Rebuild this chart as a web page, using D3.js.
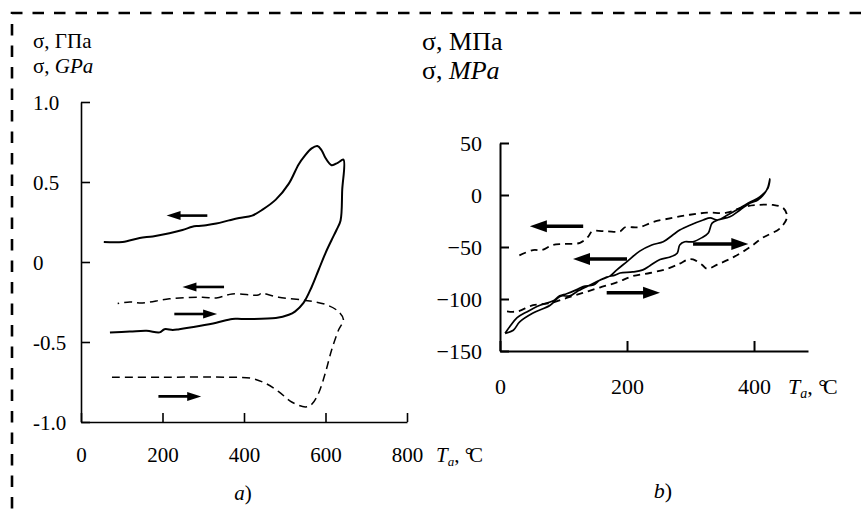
<!DOCTYPE html>
<html>
<head>
<meta charset="utf-8">
<script src="https://cdn.jsdelivr.net/npm/d3@7"></script>
<style>
  html, body { margin: 0; padding: 0; background: #fff; }
  svg { display: block; }
  svg text { font-family: "Liberation Serif", "Times New Roman", "DejaVu Serif", serif; fill: #000; }
</style>
</head>
<body>
<svg id="chart" width="864" height="516"></svg>
<script>
// ---- panel a) : stress in GPa vs annealing temperature ----
const aTicksX = [0, 200, 400, 600, 800];
const aTicksY = [1.0, 0.5, 0, -0.5, -1.0];
const aTickLabelsY = ["1.0", "0.5", "0", "-0.5", "-1.0"];
// solid loop: heating (lower) then cooling (upper)
const aSolid = [
  [71,-0.44],[120,-0.435],[161,-0.43],[193,-0.44],[205,-0.42],[225,-0.425],[241,-0.42],[290,-0.40],
  [332,-0.38],[371,-0.356],[395,-0.356],[478,-0.35],[510,-0.33],[525,-0.31],[546,-0.256],[566,-0.156],
  [583,-0.05],[600,0.056],[615,0.1375],[627,0.2],[637,0.26],[641,0.45],[644,0.64],[630,0.62],[615,0.605],
  [600,0.65],[590,0.70],[580,0.725],[566,0.71],[548,0.66],[534,0.61],[510,0.49],[478,0.39],
  [444,0.325],[420,0.29],[388,0.275],[363,0.26],[332,0.24],[307,0.23],[285,0.225],[273,0.22],
  [249,0.2],[217,0.18],[176,0.16],[144,0.15],[102,0.125],[56,0.125]
];
// dashed loop: heating (lower) then cooling (upper)
const aDashed = [
  [76,-0.72],[200,-0.72],[356,-0.72],[420,-0.728],[454,-0.76],[485,-0.81],[517,-0.875],
  [551,-0.906],[566,-0.89],[583,-0.82],[600,-0.69],[615,-0.55],[632,-0.425],[644,-0.36],
  [632,-0.31],[600,-0.265],[551,-0.24],[485,-0.22],[454,-0.2],[444,-0.193],[435,-0.206],
  [371,-0.2],[332,-0.225],[298,-0.22],[217,-0.23],[151,-0.256],[120,-0.25],[90,-0.26]
];
// direction arrows [from, to]
const aArrows = [
  [[310, 0.29], [210, 0.29]],
  [[351, -0.156], [249, -0.156]],
  [[229, -0.325], [334, -0.325]],
  [[190, -0.84], [295, -0.84]]
];

// ---- panel b) : stress in MPa vs annealing temperature ----
const bTicksX = [0, 200, 400];
const bTicksY = [50, 0, -50, -100, -150];
const bSolid = [
  [8,-133],[21,-130],[31,-122],[52,-113.5],[79,-106],[91,-99],[97,-97],[110,-97],[121,-93],
  [137,-88],[157,-82],[168,-79],[181,-77],[189,-75],[209,-74],[225,-72],[236,-68],[252,-62],
  [268,-59.6],[279,-56],[283,-48],[291,-45],[304,-45],[318,-41],[328,-36.5],[334,-27],[343,-24],
  [362,-21],[378,-14.4],[394,-7.7],[406,-4.8],[417,1.9],[422,7.7],[425,15.4],
  [422,6.7],[409,-1.9],[394,-6.7],[378,-12.5],[359,-19],[343,-24],[331,-22],[320,-24],[299,-29],
  [283,-33.7],[272,-38.5],[257,-45],[239,-48],[220,-54],[200,-64],[184,-72],[173,-78],[157,-82],
  [147,-86.5],[131,-88],[121,-91],[105,-95],[94,-97],[83,-102],[63,-106],[42,-112.5],[27,-118],
  [15,-127],[8,-133]
];
const bDashed = [
  [11,-112],[27,-112],[52,-106],[79,-104],[105,-99],[131,-94],[157,-89],[184,-84],[209,-78],
  [236,-75],[263,-71],[283,-66],[296,-62],[304,-62],[318,-67],[326,-71],[342,-67],[367,-60],
  [394,-50],[414,-41],[441,-32],[452,-21],[446,-12.5],[430,-9.6],[405,-9.6],[383,-11.5],
  [357,-17],[326,-17],[299,-19],[272,-22],[241,-26],[220,-31],[209,-31],[197,-31],[189,-35],
  [168,-35],[145,-35],[139,-40],[126,-46],[99,-47],[83,-48],[66,-53],[52,-53],[27,-59]
];
const bArrows = [
  [[131, -30], [47, -30]],
  [[200, -61.5], [115, -61.5]],
  [[304, -47], [391, -47]],
  [[168, -94], [252, -94]]
];

const svg = d3.select("#chart");
const ink = "#000";

// dashed frame around the figure
svg.append("path")
  .attr("d", "M12,530 L12,13 L880,13")
  .attr("fill", "none").attr("stroke", ink)
  .attr("stroke-width", 2.6).attr("stroke-dasharray", "11.5,10");

function arrow(g, x, y, pts, w, headL, headW) {
  const [p0, p1] = pts;
  const x0 = x(p0[0]), y0 = y(p0[1]), x1 = x(p1[0]), y1 = y(p1[1]);
  const dir = Math.sign(x1 - x0);
  g.append("line")
    .attr("x1", x0).attr("y1", y0).attr("x2", x1 - dir * headL * 0.8).attr("y2", y1)
    .attr("stroke", ink).attr("stroke-width", w);
  g.append("path")
    .attr("d", `M${x1},${y1} L${x1 - dir * headL},${y1 - headW} L${x1 - dir * headL},${y1 + headW} Z`)
    .attr("fill", ink);
}

function styleAxis(ax, sw, fs) {
  ax.attr("font-family", null).attr("font-size", null);
  ax.select(".domain").attr("stroke-width", sw);
  ax.selectAll(".tick line").attr("stroke-width", sw);
  ax.selectAll(".tick text").style("font-size", fs + "px");
}

// axis title "T_a, °C"
function tempLabel(g, x0, y0, fs, subFs) {
  const t = g.append("text").attr("x", x0).attr("y", y0).style("font-size", fs + "px");
  t.append("tspan").attr("font-style", "italic").text("T");
  t.append("tspan").attr("font-style", "italic").style("font-size", subFs + "px").attr("dy", 4).text("a");
  t.append("tspan").attr("dy", -4).text(", ");
  t.append("tspan").style("letter-spacing", "-4px").text("°C");
}

// ===== panel a =====
{
  const x = d3.scaleLinear().domain([0, 800]).range([81, 407]);
  const y = d3.scaleLinear().domain([-1, 1]).range([422, 102]);
  const g = svg.append("g");
  const fs = 21;

  const ya = g.append("g").attr("transform", `translate(${x(0)},0)`)
    .call(d3.axisLeft(y).tickValues(aTicksY).tickSize(-9).tickSizeOuter(0)
      .tickFormat((d, i) => aTickLabelsY[i]));
  styleAxis(ya, 1.6, fs);
  ya.selectAll(".tick text").attr("x", -48).attr("dy", "0.35em").attr("text-anchor", "start");

  const xa = g.append("g").attr("transform", `translate(0,${y(-1)})`)
    .call(d3.axisBottom(x).tickValues(aTicksX).tickSize(-9).tickSizeOuter(0));
  styleAxis(xa, 1.6, fs);
  xa.selectAll(".tick text").attr("y", 40).attr("dy", 0);

  const line = d3.line().x(d => x(d[0])).y(d => y(d[1])).curve(d3.curveCatmullRom.alpha(0.5));
  g.append("path").attr("d", line(aSolid)).attr("fill", "none")
    .attr("stroke", ink).attr("stroke-width", 2);
  g.append("path").attr("d", line(aDashed)).attr("fill", "none")
    .attr("stroke", ink).attr("stroke-width", 1.5).attr("stroke-dasharray", "8,5");

  aArrows.forEach(a => arrow(g, x, y, a, 2.6, 14, 4.5));

  g.append("text").attr("x", 33).attr("y", 48).style("font-size", "21px")
    .text("σ, ГПа");
  const t2 = g.append("text").attr("x", 33).attr("y", 73).style("font-size", "21px");
  t2.append("tspan").text("σ, ");
  t2.append("tspan").attr("font-style", "italic").text("GPa");

  tempLabel(g, 436, 462, fs, 13);

  const lab = g.append("text").attr("x", 243).attr("y", 500).style("font-size", fs + "px")
    .attr("text-anchor", "middle");
  lab.append("tspan").attr("font-style", "italic").text("a");
  lab.append("tspan").text(")");
}

// ===== panel b =====
{
  const x = d3.scaleLinear().domain([0, 485]).range([500, 808]);
  const y = d3.scaleLinear().domain([-150, 50]).range([351, 143]);
  const g = svg.append("g");
  const fs = 22;

  const ya = g.append("g").attr("transform", `translate(${x(0)},0)`)
    .call(d3.axisLeft(y).tickValues(bTicksY).tickSize(-9).tickSizeOuter(0));
  styleAxis(ya, 2, fs);
  ya.selectAll(".tick text").attr("x", -18).attr("dy", "0.35em");

  const xa = g.append("g").attr("transform", `translate(0,${y(-150)})`)
    .call(d3.axisBottom(x).tickValues(bTicksX).tickSize(-10).tickSizeOuter(0));
  styleAxis(xa, 2, fs);
  xa.selectAll(".tick text").attr("y", 43).attr("dy", 0);

  const line = d3.line().x(d => x(d[0])).y(d => y(d[1])).curve(d3.curveCatmullRom.alpha(0.5));
  g.append("path").attr("d", line(bDashed)).attr("fill", "none")
    .attr("stroke", ink).attr("stroke-width", 1.8).attr("stroke-dasharray", "7,5");
  g.append("path").attr("d", line(bSolid)).attr("fill", "none")
    .attr("stroke", ink).attr("stroke-width", 1.7);

  bArrows.forEach(a => arrow(g, x, y, a, 3.5, 17, 6));

  g.append("text").attr("x", 422).attr("y", 50).style("font-size", "26px")
    .text("σ, МПа");
  const t2 = g.append("text").attr("x", 422).attr("y", 79).style("font-size", "26px");
  t2.append("tspan").text("σ, ");
  t2.append("tspan").attr("font-style", "italic").text("MPa");

  tempLabel(g, 788, 394, fs, 14);

  const lab = g.append("text").attr("x", 663).attr("y", 498).style("font-size", fs + "px")
    .attr("text-anchor", "middle");
  lab.append("tspan").attr("font-style", "italic").text("b");
  lab.append("tspan").text(")");
}
</script>
</body>
</html>
